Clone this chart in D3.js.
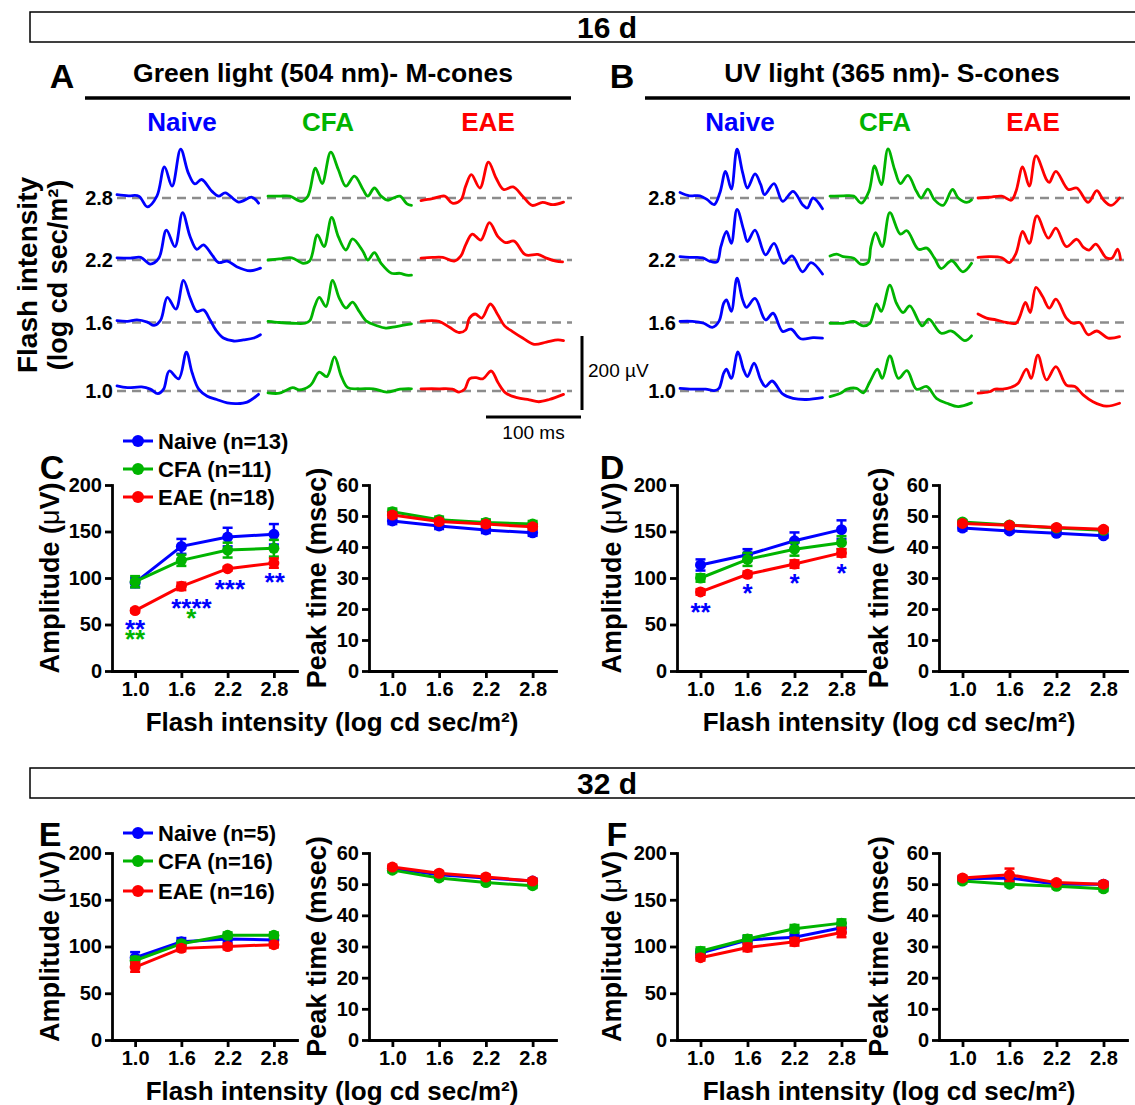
<!DOCTYPE html>
<html>
<head>
<meta charset="utf-8">
<script src="https://d3js.org/d3.v7.min.js"></script>
<style>
  body { margin: 0; background: #fff; }
  text { font-family: "Liberation Sans", Arial, Helvetica, sans-serif; }
</style>
</head>
<body>
<svg width="1135" height="1105"></svg>
<script>

// ---------- data ----------
var intensities = [1.0, 1.6, 2.2, 2.8];
var traceRows = ["2.8", "2.2", "1.6", "1.0"];
var groupNames = ["Naive", "CFA", "EAE"];
var groupColors = ["#0000ff", "#00b400", "#ff0000"];
var legend16 = ["Naive (n=13)", "CFA (n=11)", "EAE (n=18)"];
var legend32 = ["Naive (n=5)", "CFA (n=16)", "EAE (n=16)"];
var ampTicks = [0, 50, 100, 150, 200];
var peakTicks = [0, 10, 20, 30, 40, 50, 60];

// ERG traces, [ms, µV], rows 2.8 / 2.2 / 1.6 / 1.0
var waveA_naive = [
  [[0,9],[12,6],[23,5],[32,-24],[42,5],[50,84],[58,32],[67,132],[75,68],[82,38],[89,50],[100,18],[107,5],[114,14],[128,-11],[142,2],[149,-14]],
  [[0,6],[14,5],[25,7],[35,-11],[44,5],[52,81],[61,36],[69,128],[77,63],[84,29],[91,41],[100,14],[107,-7],[116,-3],[126,-18],[140,-29],[151,-22]],
  [[0,5],[11,3],[21,7],[32,1],[39,-8],[46,7],[53,68],[62,36],[70,114],[77,66],[84,30],[91,34],[98,7],[104,-20],[112,-42],[123,-50],[133,-47],[144,-42],[151,-33]],
  [[0,14],[11,9],[26,11],[35,5],[43,-7],[49,5],[55,54],[65,33],[73,105],[79,50],[86,5],[95,-14],[105,-23],[116,-32],[126,-34],[137,-30],[149,-9]]
];
var waveA_cfa = [
  [[0,5],[12,5],[23,5],[35,-9],[42,5],[50,81],[57,39],[66,124],[74,77],[82,32],[91,59],[100,23],[105,5],[112,27],[119,5],[126,-6],[132,0],[139,5],[146,-15],[151,-20]],
  [[0,0],[12,3],[25,6],[37,-9],[44,-2],[52,68],[59,36],[67,115],[74,63],[82,27],[89,57],[100,23],[105,0],[112,20],[119,-9],[130,-36],[139,-36],[146,-41],[151,-41]],
  [[0,3],[12,0],[26,-2],[39,-2],[44,5],[49,43],[54,68],[61,43],[68,114],[75,66],[82,39],[89,55],[96,30],[104,3],[114,-8],[124,-15],[135,-11],[151,-4]],
  [[0,-5],[12,-6],[26,9],[33,3],[44,14],[47,23],[54,51],[62,39],[70,92],[77,41],[84,9],[96,6],[111,6],[125,-3],[139,5],[151,6]]
];
var waveA_eae = [
  [[0,-7],[12,-2],[25,5],[33,-14],[42,-5],[47,32],[53,63],[62,27],[71,97],[79,54],[87,23],[97,30],[107,5],[117,-20],[128,-12],[139,-18],[150,-11]],
  [[0,5],[12,7],[23,7],[35,-3],[42,11],[47,41],[54,70],[63,54],[72,101],[81,63],[89,47],[98,51],[110,14],[123,15],[132,5],[142,-3],[149,-5]],
  [[0,3],[19,3],[30,-13],[40,-27],[47,-20],[51,12],[57,23],[64,12],[73,50],[81,20],[88,-9],[96,-24],[107,-42],[119,-59],[132,-53],[144,-47],[150,-49]],
  [[0,6],[19,6],[33,5],[40,-3],[46,5],[51,33],[58,36],[65,33],[74,54],[81,23],[89,-5],[101,-18],[114,-24],[124,-29],[135,-23],[150,-9]]
];
var waveB_naive = [
  [[0,15],[10,6],[21,6],[29,-5],[36,-18],[42,14],[48,72],[54,24],[60,132],[66,68],[71,27],[79,65],[85,36],[89,9],[99,39],[108,-9],[119,18],[129,-18],[134,-27],[140,0],[150,-29]],
  [[0,9],[10,7],[24,6],[31,-3],[39,-5],[43,36],[49,77],[54,45],[60,137],[67,81],[71,50],[79,81],[90,14],[99,45],[109,-9],[118,11],[129,-32],[138,-7],[150,-38]],
  [[0,3],[13,3],[25,-2],[34,-13],[41,3],[46,52],[49,61],[54,30],[60,120],[66,61],[70,41],[79,65],[90,7],[98,25],[108,-24],[117,-18],[127,-44],[140,-41],[150,-42]],
  [[0,7],[13,5],[27,5],[36,1],[41,7],[46,48],[49,59],[54,34],[61,106],[67,57],[71,39],[78,75],[85,30],[90,12],[97,27],[108,-8],[119,-20],[133,-23],[150,-18]]
];
var waveB_cfa = [
  [[0,5],[14,6],[25,5],[33,-14],[41,18],[47,87],[54,36],[61,133],[68,77],[74,39],[82,61],[91,18],[96,0],[103,24],[110,-5],[119,-20],[129,23],[135,0],[144,-12],[149,-5]],
  [[0,11],[7,16],[14,9],[25,5],[32,-11],[40,-7],[43,36],[48,74],[55,36],[63,128],[74,70],[81,79],[93,29],[102,32],[110,5],[117,-23],[128,-2],[140,-32],[149,-9]],
  [[0,-2],[14,-2],[25,3],[35,-9],[42,-2],[49,50],[54,30],[63,101],[70,52],[77,27],[84,45],[97,-9],[104,9],[117,-29],[128,-23],[142,-49],[149,-36]],
  [[0,-15],[11,-6],[18,5],[28,7],[35,-5],[42,25],[50,59],[55,34],[63,95],[72,34],[81,55],[91,5],[102,12],[112,-20],[123,-33],[135,-42],[149,-32]]
];
var waveB_eae = [
  [[0,0],[12,2],[25,5],[35,-6],[40,18],[47,84],[54,32],[61,114],[72,50],[75,42],[82,72],[95,23],[104,27],[116,-12],[125,20],[132,-5],[140,-20],[149,0]],
  [[0,7],[12,9],[25,6],[33,-7],[40,18],[47,77],[54,45],[62,119],[74,59],[82,86],[93,36],[104,56],[111,34],[117,27],[124,43],[135,6],[141,5],[147,29],[150,2]],
  [[0,23],[9,12],[19,7],[30,0],[40,-2],[44,16],[50,54],[55,27],[61,95],[68,70],[75,39],[82,63],[93,12],[100,-2],[107,0],[116,-33],[125,-23],[137,-42],[149,-38]],
  [[0,-6],[12,-2],[18,5],[26,5],[35,10],[42,20],[51,59],[56,34],[63,97],[72,30],[82,66],[93,16],[102,12],[111,-11],[121,-29],[135,-41],[149,-33]]
];

// group means (rows: Naive, CFA, EAE) and SEM
var ampC_mean  = [[95, 134, 144, 147], [96, 119, 130, 132], [65, 91, 110, 116]];
var ampC_sem   = [[5, 8, 10, 11], [6, 6, 8, 9], [2, 4, 2, 5]];
var peakC_mean = [[48.4, 46.8, 45.5, 44.6], [51.4, 48.8, 47.9, 47.4], [50.3, 48.2, 47.4, 46.5]];
var peakC_sem  = [[1, 1, 1, 1], [1, 1, 1, 1], [0.8, 0.8, 0.8, 0.8]];
var ampD_mean  = [[114, 125, 140, 152], [100, 120, 131, 138], [85, 104, 115, 127]];
var ampD_sem   = [[6, 6, 9, 10], [4, 7, 7, 7], [3, 3, 4, 4]];
var peakD_mean = [[46.1, 45.2, 44.4, 43.6], [48.1, 47.1, 46.1, 45.4], [47.6, 47.0, 46.3, 45.7]];
var peakD_sem  = [[0.8, 0.6, 0.6, 0.6], [0.6, 0.6, 0.6, 0.6], [0.6, 0.6, 0.6, 0.6]];
var ampE_mean  = [[88, 105, 108, 107], [85, 103, 112, 112], [78, 98, 100, 102]];
var ampE_sem   = [[6, 4, 4, 3], [4, 3, 3, 3], [5, 3, 3, 3]];
var peakE_mean = [[55, 53, 52, 51], [54.5, 52, 50.5, 49.5], [55.5, 53.5, 52.3, 51]];
var peakE_sem  = [[0.7, 0.7, 0.7, 0.7], [0.7, 0.7, 0.7, 0.7], [0.7, 0.7, 0.7, 0.7]];
var ampF_mean  = [[93, 107, 110, 120], [95, 108, 119, 125], [88, 99, 105, 115]];
var ampF_sem   = [[4, 4, 4, 5], [4, 4, 4, 4], [3, 4, 4, 5]];
var peakF_mean = [[51.7, 52, 50, 50], [51, 50, 49.3, 48.5], [52, 53, 50.5, 50]];
var peakF_sem  = [[0.7, 0.7, 0.7, 0.7], [0.7, 0.7, 0.7, 0.7], [0.7, 2, 0.7, 0.7]];

// significance marks: [intensity, amplitude, label, group]
var starsC = [[1.0, 52, "**", 0], [1.0, 41, "**", 1], [1.73, 74, "****", 0], [1.73, 63, "*", 1], [2.23, 95, "***", 0], [2.81, 102.5, "**", 0]];
var starsD = [[1.0, 70, "**", 0], [1.6, 90, "*", 0], [2.2, 101, "*", 0], [2.8, 111.5, "*", 0]];

// ---------- drawing ----------
var svg = d3.select("svg");

function txt(x, y, s, size, opts) {
  opts = opts || {};
  return svg.append("text").attr("x", x).attr("y", y)
    .attr("font-size", size).attr("font-weight", opts.weight || "bold")
    .attr("text-anchor", opts.anchor || "middle")
    .attr("fill", opts.fill || "#000").text(s);
}

// header boxes
function headerBox(y, label) {
  svg.append("rect").attr("x", 30).attr("y", y).attr("width", 1120).attr("height", 30)
    .attr("fill", "none").attr("stroke", "#000").attr("stroke-width", 1.5);
  txt(607, y + 26, label, 30);
}
headerBox(12, "16 d");
headerBox(768, "32 d");

// ---- trace panels ----
var pxPerMs = 0.95, pxPerUv = 0.37;
var rowBase = [198, 260, 322.5, 391];

function tracePanel(p) {
  txt(p.letterX, 88, p.letter, 34);
  txt(p.titleX, 82, p.title, 26.5);
  svg.append("line").attr("x1", p.lineX0).attr("x2", p.lineX1).attr("y1", 98).attr("y2", 98)
    .attr("stroke", "#000").attr("stroke-width", 3.5);
  groupNames.forEach(function(name, gi) {
    txt(p.groupX[gi], 131, name, 26, {fill: groupColors[gi]});
  });
  traceRows.forEach(function(lab, ri) {
    var base = rowBase[ri];
    txt(p.labelX, base + 7, lab, 20, {anchor: "end"});
    svg.append("line").attr("x1", p.dashX0).attr("x2", p.dashX1).attr("y1", base).attr("y2", base)
      .attr("stroke", "#8c8c8c").attr("stroke-width", 2.5).attr("stroke-dasharray", "9,6");
    p.waves.forEach(function(w, gi) {
      var x = d3.scaleLinear().domain([0, 100]).range([p.startX[gi], p.startX[gi] + 100 * pxPerMs]);
      var y = d3.scaleLinear().domain([0, 100]).range([base, base - 100 * pxPerUv]);
      var line = d3.line().x(function(d) { return x(d[0]); }).y(function(d) { return y(d[1]); })
        .curve(d3.curveCatmullRom.alpha(0.5));
      svg.append("path").datum(w[ri]).attr("d", line)
        .attr("fill", "none").attr("stroke", groupColors[gi]).attr("stroke-width", 2.8)
        .attr("stroke-linejoin", "round").attr("stroke-linecap", "round");
    });
  });
}

tracePanel({
  letter: "A", letterX: 62, title: "Green light (504 nm)- M-cones", titleX: 323,
  lineX0: 85, lineX1: 571, groupX: [182, 328, 488], labelX: 113,
  dashX0: 117, dashX1: 572, startX: [117, 268, 421],
  waves: [waveA_naive, waveA_cfa, waveA_eae]
});
tracePanel({
  letter: "B", letterX: 622, title: "UV light (365 nm)- S-cones", titleX: 892,
  lineX0: 645, lineX1: 1130, groupX: [740, 885, 1033], labelX: 676,
  dashX0: 680, dashX1: 1124, startX: [680, 830, 978],
  waves: [waveB_naive, waveB_cfa, waveB_eae]
});

// y label of the trace panels
svg.append("text").attr("transform", "translate(37,275) rotate(-90)")
  .attr("text-anchor", "middle").attr("font-size", 28).attr("font-weight", "bold")
  .text("Flash intensity");
svg.append("text").attr("transform", "translate(67,275) rotate(-90)")
  .attr("text-anchor", "middle").attr("font-size", 27).attr("font-weight", "bold")
  .text("(log cd sec/m²)");

// scale bars (200 µV, 100 ms)
var barV = d3.scaleLinear().domain([0, 200]).range([410, 410 - 200 * pxPerUv]);
var barH = d3.scaleLinear().domain([0, 100]).range([486, 486 + 100 * pxPerMs]);
svg.append("line").attr("x1", 582).attr("x2", 582).attr("y1", barV(0)).attr("y2", barV(200))
  .attr("stroke", "#000").attr("stroke-width", 3);
svg.append("line").attr("x1", barH(0)).attr("x2", barH(100)).attr("y1", 417).attr("y2", 417)
  .attr("stroke", "#000").attr("stroke-width", 3);
txt(588, 377, "200 µV", 19, {weight: "normal", anchor: "start"});
txt(barH(50), 439, "100 ms", 19, {weight: "normal"});

// ---- line charts ----
function lineChart(o) {
  var x = d3.scaleLinear().domain([0.7, 3.1]).range([o.x0, o.x1]);
  var y = d3.scaleLinear().domain([0, o.max]).range([o.yb, o.yt]);
  var g = svg.append("g");

  var ya = g.append("g").attr("transform", "translate(" + o.x0 + ",0)")
    .call(d3.axisLeft(y).tickValues(o.ticks).tickSize(7).tickSizeOuter(0).tickPadding(3));
  var xa = g.append("g").attr("transform", "translate(0," + o.yb + ")")
    .call(d3.axisBottom(x).tickValues(intensities).tickFormat(d3.format(".1f"))
      .tickSize(7).tickSizeOuter(0).tickPadding(4));
  [ya, xa].forEach(function(a) {
    a.select(".domain").attr("stroke-width", 2.8).attr("stroke-linecap", "square");
    a.selectAll(".tick line").attr("stroke-width", 2.8);
    a.selectAll(".tick text").attr("font-size", 20).attr("font-weight", "bold")
      .attr("font-family", "Liberation Sans, Arial, sans-serif").attr("fill", "#000");
  });

  g.append("text").attr("transform", "translate(" + o.labelX + "," + ((o.yt + o.yb) / 2) + ") rotate(-90)")
    .attr("text-anchor", "middle").attr("font-size", 27).attr("font-weight", "bold")
    .html(o.label);

  var line = d3.line().x(function(d) { return x(d.x); }).y(function(d) { return y(d.v); });
  o.mean.forEach(function(m, gi) {
    var pts = m.map(function(v, i) { return {x: intensities[i], v: v, e: o.sem[gi][i]}; });
    var c = groupColors[gi];
    var s = g.append("g");
    pts.forEach(function(d) {
      var cx = x(d.x);
      s.append("line").attr("x1", cx).attr("x2", cx).attr("y1", y(d.v - d.e)).attr("y2", y(d.v + d.e))
        .attr("stroke", c).attr("stroke-width", 2.5);
      [d.v - d.e, d.v + d.e].forEach(function(ev) {
        s.append("line").attr("x1", cx - 5).attr("x2", cx + 5).attr("y1", y(ev)).attr("y2", y(ev))
          .attr("stroke", c).attr("stroke-width", 2.5);
      });
    });
    s.append("path").datum(pts).attr("d", line).attr("fill", "none")
      .attr("stroke", c).attr("stroke-width", 3);
    s.selectAll("circle").data(pts).enter().append("circle")
      .attr("cx", function(d) { return x(d.x); }).attr("cy", function(d) { return y(d.v); })
      .attr("r", 5.5).attr("fill", c);
  });

  (o.stars || []).forEach(function(st) {
    g.append("text").attr("x", x(st[0])).attr("y", y(st[1]) + 15)
      .attr("text-anchor", "middle").attr("font-size", 26).attr("font-weight", "bold")
      .attr("fill", groupColors[st[3]]).text(st[2]);
  });
}

function legend(x, ys, labels) {
  labels.forEach(function(l, i) {
    svg.append("line").attr("x1", x).attr("x2", x + 30).attr("y1", ys[i]).attr("y2", ys[i])
      .attr("stroke", groupColors[i]).attr("stroke-width", 3);
    svg.append("circle").attr("cx", x + 15).attr("cy", ys[i]).attr("r", 6).attr("fill", groupColors[i]);
    txt(x + 35, ys[i] + 8, l, 22, {anchor: "start"});
  });
}

var ampLabel = "Amplitude (<tspan font-weight='normal'>μ</tspan>V)";
var peakLabel = "Peak time (msec)";
var xTitle = "Flash intensity (log cd sec/m²)";

function chartRow(yt, yb, ampL, peakL, ampR, peakR, starsL, starsR) {
  lineChart({x0: 112, x1: 297, yt: yt, yb: yb, max: 200, ticks: ampTicks, mean: ampL[0], sem: ampL[1], label: ampLabel, labelX: 59, stars: starsL});
  lineChart({x0: 369, x1: 556, yt: yt, yb: yb, max: 60, ticks: peakTicks, mean: peakL[0], sem: peakL[1], label: peakLabel, labelX: 326});
  lineChart({x0: 677, x1: 865, yt: yt, yb: yb, max: 200, ticks: ampTicks, mean: ampR[0], sem: ampR[1], label: ampLabel, labelX: 621, stars: starsR});
  lineChart({x0: 939, x1: 1127, yt: yt, yb: yb, max: 60, ticks: peakTicks, mean: peakR[0], sem: peakR[1], label: peakLabel, labelX: 888});
  txt(332, yb + 60, xTitle, 26);
  txt(889, yb + 60, xTitle, 26);
}

chartRow(485, 671, [ampC_mean, ampC_sem], [peakC_mean, peakC_sem], [ampD_mean, ampD_sem], [peakD_mean, peakD_sem], starsC, starsD);
chartRow(853, 1040, [ampE_mean, ampE_sem], [peakE_mean, peakE_sem], [ampF_mean, ampF_sem], [peakF_mean, peakF_sem]);

txt(52, 479, "C", 34);
txt(612, 479, "D", 34);
txt(50, 846, "E", 34);
txt(617, 846, "F", 34);
legend(123, [441, 469, 497], legend16);
legend(123, [833, 861, 891], legend32);

</script>
</body>
</html>
